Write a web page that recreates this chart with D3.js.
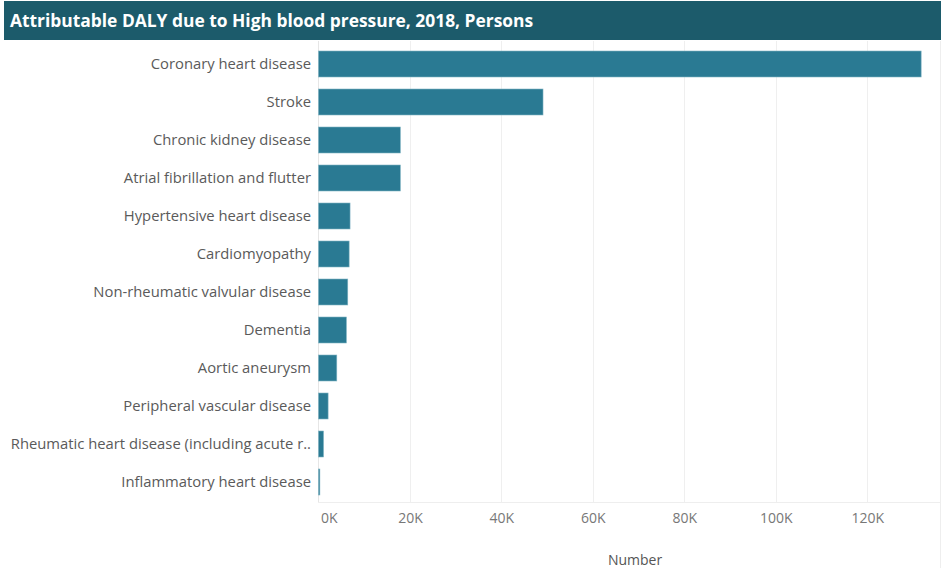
<!DOCTYPE html>
<html>
<head>
<meta charset="utf-8">
<script src="https://cdn.jsdelivr.net/npm/d3@7"></script>
<style>
  html, body { margin: 0; padding: 0; background: #fff; }
  svg { display: block; }
  text { font-family: "Open Sans", "Noto Sans", sans-serif; }
</style>
</head>
<body>
<svg id="chart" width="941" height="568"></svg>
<script>
const titleText = "Attributable DALY due to High blood pressure, 2018, Persons";
const categories = [
  "Coronary heart disease",
  "Stroke",
  "Chronic kidney disease",
  "Atrial fibrillation and flutter",
  "Hypertensive heart disease",
  "Cardiomyopathy",
  "Non-rheumatic valvular disease",
  "Dementia",
  "Aortic aneurysm",
  "Peripheral vascular disease",
  "Rheumatic heart disease (including acute r..",
  "Inflammatory heart disease"
];
const values = [131800, 49100, 17900, 17900, 6900, 6700, 6400, 6100, 4000, 2100, 1100, 300];
const tickValues = [0, 20000, 40000, 60000, 80000, 100000, 120000];
const tickLabels = ["0K", "20K", "40K", "60K", "80K", "100K", "120K"];
const axisTitle = "Number";

const svg = d3.select("#chart");

// Title bar
svg.append("rect").attr("x", 4).attr("y", 1).attr("width", 937).attr("height", 39).attr("fill", "#1c5b6b");
svg.append("text").attr("x", 10).attr("y", 27)
  .attr("fill", "#fff").attr("font-weight", "bold").attr("font-size", 17.4)
  .text(titleText);

const plotLeft = 318.5, plotRight = 940, plotTop = 41, plotBottom = 502;

const x = d3.scaleLinear().domain([0, 120000]).range([plotLeft, plotLeft + 6 * 91.45]);
const y = d3.scaleBand().domain(categories).range([45, 501]).paddingInner(0.316).paddingOuter(0.158);

// gridlines
svg.append("g").selectAll("line").data(tickValues.slice(1)).join("line")
  .attr("x1", d => Math.round(x(d)) + 0.5).attr("x2", d => Math.round(x(d)) + 0.5)
  .attr("y1", plotTop).attr("y2", plotBottom)
  .attr("stroke", "#efefef").attr("stroke-width", 1);

// zero line and bottom line
svg.append("line").attr("x1", 318.5).attr("x2", 318.5).attr("y1", plotTop).attr("y2", plotBottom)
  .attr("stroke", "#e6e6e6");
svg.append("line").attr("x1", 318).attr("x2", plotRight).attr("y1", plotBottom + 0.5).attr("y2", plotBottom + 0.5)
  .attr("stroke", "#eeeeee");
svg.append("line").attr("x1", 940.5).attr("x2", 940.5).attr("y1", plotTop).attr("y2", 568)
  .attr("stroke", "#eeeeee");

// bars
svg.append("g").selectAll("rect").data(categories).join("rect")
  .attr("x", x(0))
  .attr("y", d => y(d))
  .attr("width", (d, i) => Math.max(1, x(values[i]) - x(0)))
  .attr("height", y.bandwidth())
  .attr("fill", "#2a7a93")
  .attr("stroke", "#7fb3c2").attr("stroke-width", 0.6);

// category labels
const yAxis = d3.axisLeft(y).tickSize(0).tickPadding(0);
const ya = svg.append("g").attr("transform", "translate(311,0)").call(yAxis);
ya.select(".domain").remove();
ya.selectAll("text").attr("font-size", 14.8).attr("fill", "#5a5a5a").attr("dy", "0.35em")
  .style("font-family", '"Open Sans", sans-serif');

// x axis labels
const xAxis = d3.axisBottom(x).tickValues(tickValues).tickFormat((d, i) => tickLabels[i]).tickSize(0).tickPadding(0);
const xa = svg.append("g").attr("transform", "translate(0,513)").call(xAxis);
xa.select(".domain").remove();
xa.selectAll("text").attr("font-size", 14).attr("fill", "#777").attr("dy", "0.71em")
  .style("font-family", '"Open Sans", sans-serif');
xa.selectAll("text").filter(d => d === 0).attr("text-anchor", "start").attr("dx", 2);

svg.append("text").attr("x", 635).attr("y", 565).attr("text-anchor", "middle")
  .attr("font-size", 14).attr("fill", "#555").text(axisTitle);
</script>
</body>
</html>
